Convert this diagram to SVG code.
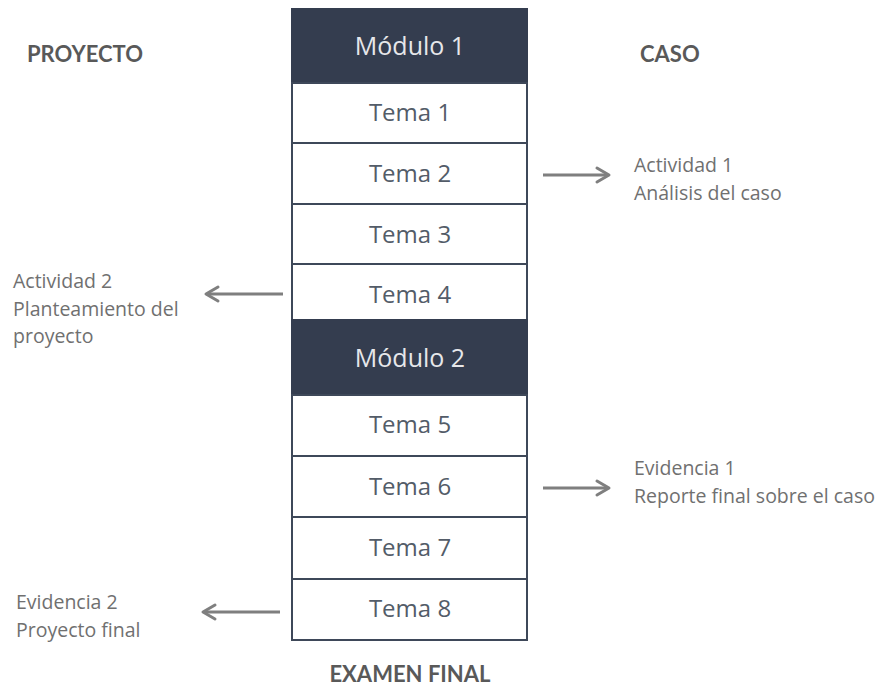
<svg xmlns="http://www.w3.org/2000/svg" width="886" height="686" viewBox="0 0 886 686">
<style>
.dark{fill:#343d4f;stroke:#343d4f;stroke-width:2}
.light{fill:#ffffff;stroke:#3e4859;stroke-width:2}
.mt{font-family:"Open Sans","Noto Sans",sans-serif;font-size:25px;fill:#e6e7ea;text-anchor:middle}
.tt{font-family:"Open Sans","Noto Sans",sans-serif;font-size:24px;fill:#535c68;text-anchor:middle}
.lbl{font-family:"Open Sans","Noto Sans",sans-serif;font-size:19.5px;fill:#707070}
.hd{font-family:"Lato","Open Sans",sans-serif;font-size:22px;font-weight:bold;fill:#595959}
.arr{stroke:#7f7f7f;stroke-width:3;fill:none}
.ah{stroke:#7f7f7f;stroke-width:3;fill:none;stroke-linecap:round;stroke-linejoin:round}
</style>
<rect width="886" height="686" fill="#ffffff"/>
<g id="modulo1"><rect class="dark" x="292" y="9" width="235" height="74"/><text class="mt" x="410" y="55">Módulo 1</text></g>
<g id="tema1"><rect class="light" x="292" y="83" width="235" height="60"/><text class="tt" x="410" y="121">Tema 1</text></g>
<g id="tema2"><rect class="light" x="292" y="143" width="235" height="61"/><text class="tt" x="410" y="182">Tema 2</text></g>
<g id="tema3"><rect class="light" x="292" y="204" width="235" height="60"/><text class="tt" x="410" y="243">Tema 3</text></g>
<g id="tema4"><rect class="light" x="292" y="264" width="235" height="56"/><text class="tt" x="410" y="303">Tema 4</text></g>
<g id="modulo2"><rect class="dark" x="292" y="320" width="235" height="75"/><text class="mt" x="410" y="367">Módulo 2</text></g>
<g id="tema5"><rect class="light" x="292" y="395" width="235" height="61"/><text class="tt" x="410" y="433">Tema 5</text></g>
<g id="tema6"><rect class="light" x="292" y="456" width="235" height="61"/><text class="tt" x="410" y="495">Tema 6</text></g>
<g id="tema7"><rect class="light" x="292" y="517" width="235" height="62"/><text class="tt" x="410" y="556">Tema 7</text></g>
<g id="tema8"><rect class="light" x="292" y="579" width="235" height="61"/><text class="tt" x="410" y="617">Tema 8</text></g>
<g id="headings">
<text class="hd" x="27" y="62">PROYECTO</text>
<text class="hd" x="640" y="62">CASO</text>
<text class="hd" x="410" y="682" text-anchor="middle">EXAMEN FINAL</text>
</g>
<g id="labels">
<text class="lbl" x="634" y="172">Actividad 1</text>
<text class="lbl" x="634" y="200">Análisis del caso</text>
<text class="lbl" x="13" y="288">Actividad 2</text>
<text class="lbl" x="13" y="316">Planteamiento del</text>
<text class="lbl" x="13" y="343">proyecto</text>
<text class="lbl" x="634" y="475">Evidencia 1</text>
<text class="lbl" x="634" y="503">Reporte final sobre el caso</text>
<text class="lbl" x="16" y="609">Evidencia 2</text>
<text class="lbl" x="16" y="637">Proyecto final</text>
</g>
<g id="connectors">
<line class="arr" x1="543" y1="175" x2="608" y2="175"/><polyline class="ah" points="597,168 609,175 597,182"/>
<line class="arr" x1="543" y1="488" x2="608" y2="488"/><polyline class="ah" points="597,481 609,488 597,495"/>
<line class="arr" x1="283" y1="294" x2="207" y2="294"/><polyline class="ah" points="218,287 206,294 218,301"/>
<line class="arr" x1="280" y1="612" x2="204" y2="612"/><polyline class="ah" points="215,605 203,612 215,619"/>
</g>
</svg>
